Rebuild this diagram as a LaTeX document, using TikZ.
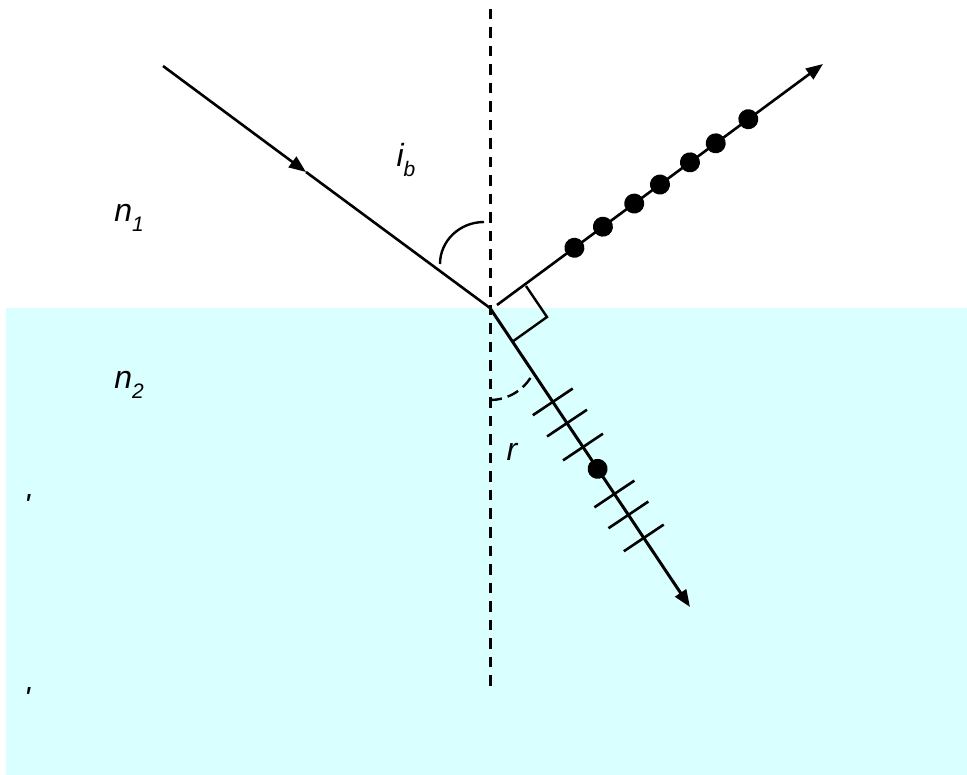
\documentclass[tikz,border=0pt]{standalone}
\usepackage{fontspec}
\setmainfont{Liberation Sans}
\usetikzlibrary{arrows.meta,decorations.markings,calc}
\definecolor{water}{RGB}{218,255,255}
\newcommand{\lbl}[2]{\textit{#1}\raisebox{-0.3em}{\fontsize{21}{25}\selectfont\textit{#2}}}
\begin{document}
\begin{tikzpicture}[x=1pt,y=-1pt,
  ray/.style={line width=2.6pt},
  tip/.style={-{Triangle[length=17pt,width=13pt]}},
  normalline/.style={line width=3pt,dash pattern=on 10.5pt off 8pt},
  thin/.style={line width=2.4pt},
  tick/.style={line width=2.6pt,arrows=-},
  lab/.style={font=\fontsize{32}{38}\selectfont\itshape,inner sep=0pt}]
\useasboundingbox (0,0) rectangle (967,775);
\fill[water] (6,308) rectangle (967,775);
% coordinates
\coordinate (O) at (490,308);
\coordinate (A) at (163,66);
\coordinate (M) at (306,172);
\coordinate (Rs) at (497,305);
\coordinate (R) at (823,64);
\coordinate (T) at (690,607);
\coordinate (Ntop) at (490,9);
\coordinate (Nbot) at (490,688);
\coordinate (Q1) at (526,286);
\coordinate (Q2) at (547,317);
\coordinate (Q3) at (512,342);
% normal
\draw[normalline] (Ntop) -- (Nbot);
% incident ray
\draw[ray,tip] (A) -- (M);
\draw[ray] (M) -- (O);
% reflected ray with dots
\draw[ray,tip,postaction={decorate,decoration={markings,
  mark=at position 0.2375 with {\fill (0,0) circle[radius=10pt];},
  mark=at position 0.325 with {\fill (0,0) circle[radius=10pt];},
  mark=at position 0.421 with {\fill (0,0) circle[radius=10pt];},
  mark=at position 0.5 with {\fill (0,0) circle[radius=10pt];},
  mark=at position 0.592 with {\fill (0,0) circle[radius=10pt];},
  mark=at position 0.671 with {\fill (0,0) circle[radius=10pt];},
  mark=at position 0.771 with {\fill (0,0) circle[radius=10pt];}}}] (Rs) -- (R);
% refracted ray with ticks
\draw[line width=3pt,tip,postaction={decorate,decoration={markings,
  mark=at position 0.314 with {\draw[tick] (0pt,-24pt) -- (0pt,24pt);},
  mark=at position 0.385 with {\draw[tick] (0pt,-24pt) -- (0pt,24pt);},
  mark=at position 0.465 with {\draw[tick] (0pt,-24pt) -- (0pt,24pt);},
  mark=at position 0.538 with {\fill (0,0) circle[radius=10pt];},
  mark=at position 0.622 with {\draw[tick] (0pt,-24pt) -- (0pt,24pt);},
  mark=at position 0.692 with {\draw[tick] (0pt,-24pt) -- (0pt,24pt);},
  mark=at position 0.769 with {\draw[tick] (0pt,-24pt) -- (0pt,24pt);}}}] (O) -- (T);
% right angle marker
\draw[thin] (Q1) -- (Q2) -- (Q3);
% angle arcs
\draw[thin] (484,222) arc[start angle=90,end angle=180,x radius=44pt,y radius=42pt];
\draw[thin,dash pattern=on 12pt off 6pt] (490,400) arc[start angle=270,end angle=335,radius=48pt];
% labels
\node[lab] (ib) at (406,160) {\lbl{i}{b}};
\node[lab] (n1) at (129,218) {\lbl{n}{1}};
\node[lab] (n2) at (129,385) {\lbl{n}{2}};
\node[lab] (r) at (512,452) {r};
\node[lab] (p1) at (27,505) {\textquotesingle};
\node[lab] (p2) at (27,698) {\textquotesingle};
\end{tikzpicture}
\end{document}
